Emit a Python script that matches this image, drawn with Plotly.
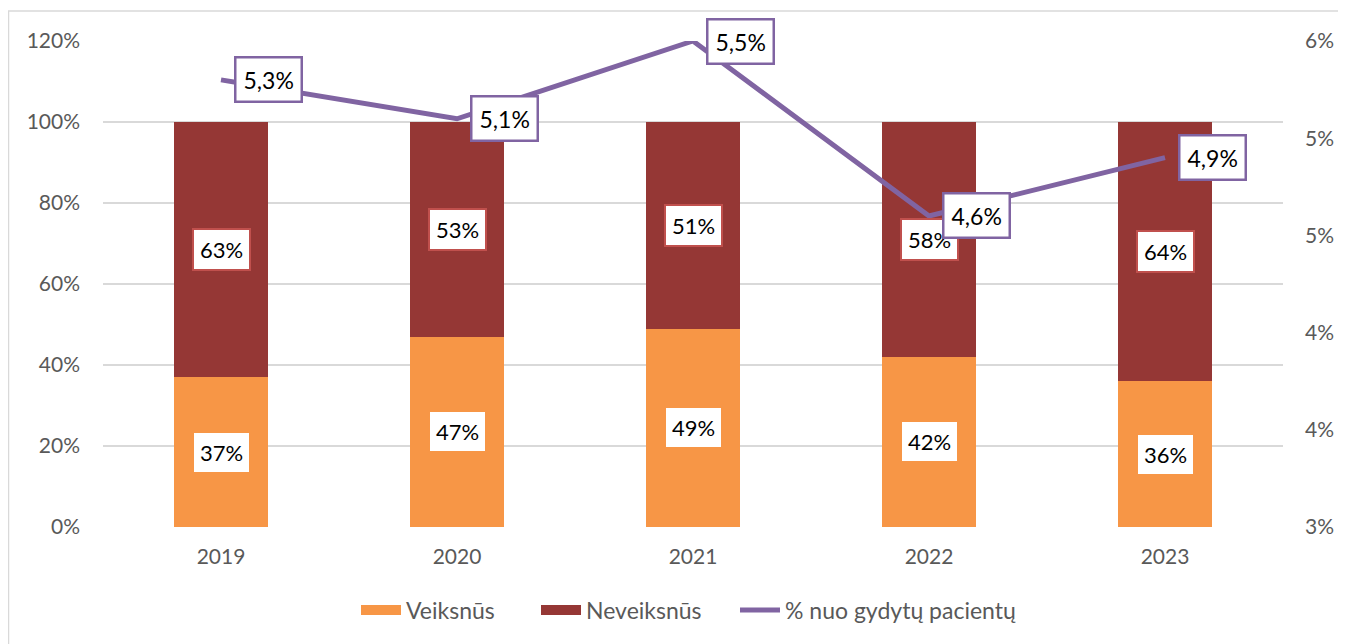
import plotly.graph_objects as go

years = ["2019", "2020", "2021", "2022", "2023"]
veiksnus = [37, 47, 49, 42, 36]
neveiksnus = [63, 53, 51, 58, 64]
pct_patients = [5.3, 5.1, 5.5, 4.6, 4.9]
pct_labels = ["5,3%", "5,1%", "5,5%", "4,6%", "4,9%"]
left_ticks = [0, 20, 40, 60, 80, 100, 120]
left_ticktext = ["0%", "20%", "40%", "60%", "80%", "100%", "120%"]
right_ticks = [3.0, 3.5, 4.0, 4.5, 5.0, 5.5]
right_ticktext = ["3%", "4%", "4%", "5%", "5%", "6%"]

ORANGE = "#F79646"
DARKRED = "#953735"
PURPLE = "#8064A2"
FONT = "Lato"
GRAY = "#595959"

W, H = 1346, 644
L, R, T, B = 95, 71, 33, 125
PW, PH = W - L - R, H - T - B

fig = go.Figure()
fig.add_trace(go.Bar(x=years, y=veiksnus, name="Veiksnūs", marker_color=ORANGE,
                     marker_line_width=0, showlegend=False))
fig.add_trace(go.Bar(x=years, y=neveiksnus, name="Neveiksnūs", marker_color=DARKRED,
                     marker_line_width=0, showlegend=False))
fig.add_trace(go.Scatter(x=years, y=pct_patients, name="% nuo gydytų pacientų",
                         mode="lines", line=dict(color=PURPLE, width=5), yaxis="y2",
                         showlegend=False))
# legend entries (swatches)
fig.add_trace(go.Scatter(x=[None], y=[None], name="Veiksnūs", mode="lines",
                         line=dict(color=ORANGE, width=15), legendwidth=125))
fig.add_trace(go.Scatter(x=[None], y=[None], name="Neveiksnūs", mode="lines",
                         line=dict(color=DARKRED, width=15), legendwidth=144))
fig.add_trace(go.Scatter(x=[None], y=[None], name="% nuo gydytų pacientų", mode="lines",
                         line=dict(color=PURPLE, width=5), yaxis="y2", legendwidth=240))

annotations = []
for i, yr in enumerate(years):
    annotations.append(dict(x=i, y=veiksnus[i] / 2, xref="x", yref="y",
                            text=f"{veiksnus[i]}%", showarrow=False,
                            font=dict(family=FONT, size=22, color="black"),
                            bgcolor="white", bordercolor=ORANGE, borderwidth=2, borderpad=6))
    annotations.append(dict(x=i, y=veiksnus[i] + neveiksnus[i] / 2, xref="x", yref="y",
                            text=f"{neveiksnus[i]}%", showarrow=False,
                            font=dict(family=FONT, size=22, color="black"),
                            bgcolor="white", bordercolor="#C0504D", borderwidth=2, borderpad=6))
    annotations.append(dict(x=i, y=pct_patients[i], xref="x", yref="y2",
                            text=pct_labels[i], showarrow=False, xanchor="left",
                            xshift=13, yshift=0,
                            font=dict(family=FONT, size=23, color="black"),
                            bgcolor="white", bordercolor=PURPLE, borderwidth=2.5, borderpad=7))

fig.update_layout(
    width=W, height=H,
    margin=dict(l=L, r=R, t=T, b=B, autoexpand=False),
    barmode="stack", bargap=0.6,
    plot_bgcolor="white", paper_bgcolor="white",
    font=dict(family=FONT, size=21, color=GRAY),
    xaxis=dict(type="category", range=[-0.5, len(years) - 0.5], autorange=False,
               showgrid=False, showline=False, ticks="",
               ticklabelstandoff=15, tickfont=dict(size=21, color=GRAY)),
    yaxis=dict(range=[0, 120], tickvals=left_ticks, ticktext=left_ticktext,
               showgrid=True, gridcolor="#D9D9D9", gridwidth=1.5, zeroline=False,
               showline=False, ticks="", ticklabelstandoff=22,
               tickfont=dict(size=21, color=GRAY)),
    yaxis2=dict(range=[3, 5.5], tickvals=right_ticks, ticktext=right_ticktext,
                overlaying="y", side="right", showgrid=False, zeroline=False,
                showline=False, ticks="", ticklabelstandoff=21,
                tickfont=dict(size=21, color=GRAY)),
    legend=dict(orientation="h", x=0.5, xanchor="center", y=(T + PH - 602) / PH,
                yanchor="middle", font=dict(size=23, color=GRAY),
                traceorder="normal", itemwidth=40),
    annotations=annotations,
    shapes=[dict(type="rect", xref="paper", yref="paper",
                 x0=(0.5 - L) / PW, x1=1.3,
                 y0=-0.6, y1=(T + PH - 3) / PH,
                 line=dict(color="#D9D9D9", width=1.5), fillcolor="rgba(0,0,0,0)", layer="below")],
)

fig.write_html("out.html")
